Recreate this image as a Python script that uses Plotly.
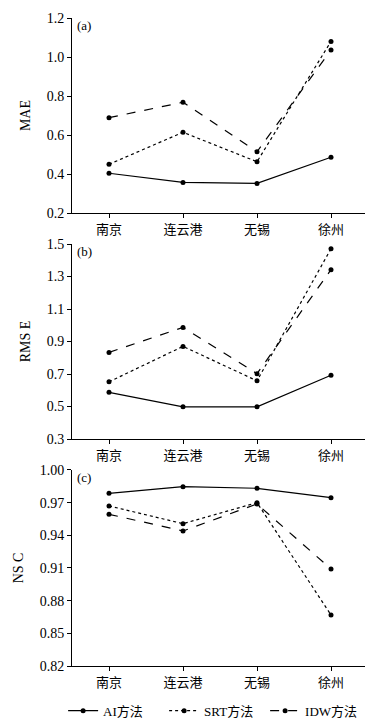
import plotly.graph_objects as go

cities = ["南京", "连云港", "无锡", "徐州"]
methods = ["AI方法", "SRT方法", "IDW方法"]

mae_ai = [0.404, 0.357, 0.352, 0.486]
mae_srt = [0.450, 0.614, 0.463, 1.080]
mae_idw = [0.689, 0.768, 0.514, 1.036]

rmse_ai = [0.587, 0.498, 0.498, 0.692]
rmse_srt = [0.652, 0.870, 0.658, 1.471]
rmse_idw = [0.833, 0.987, 0.702, 1.342]

nsc_ai = [0.9786, 0.9847, 0.9832, 0.9746]
nsc_srt = [0.9670, 0.9507, 0.9700, 0.8669]
nsc_idw = [0.9593, 0.9440, 0.9688, 0.9091]

panels = [
    ("MAE", "(a)", [mae_ai, mae_srt, mae_idw], [0.2, 1.2], [0.2, 0.4, 0.6, 0.8, 1.0, 1.2], ["0.2", "0.4", "0.6", "0.8", "1.0", "1.2"]),
    ("RMS E", "(b)", [rmse_ai, rmse_srt, rmse_idw], [0.3, 1.5], [0.3, 0.5, 0.7, 0.9, 1.1, 1.3, 1.5], ["0.3", "0.5", "0.7", "0.9", "1.1", "1.3", "1.5"]),
    ("NS C", "(c)", [nsc_ai, nsc_srt, nsc_idw], [0.82, 1.00], [0.82, 0.85, 0.88, 0.91, 0.94, 0.97, 1.00], ["0.82", "0.85", "0.88", "0.91", "0.94", "0.97", "1.00"]),
]

dashes = ["solid", "dot", "dash"]
domains = [[0.699, 1.0], [0.3503, 0.6512], [0.0, 0.3025]]

SERIF = "Liberation Serif"
CJK = "Noto Sans CJK SC"

fig = go.Figure()
layout = {}
for i, (ytitle, label, series, yr, tv, tt) in enumerate(panels):
    n = "" if i == 0 else str(i + 1)
    for j, vals in enumerate(series):
        fig.add_trace(go.Scatter(
            x=[0, 1, 2, 3], y=vals, mode="lines+markers",
            line=dict(color="black", width=1.2, dash=dashes[j]),
            marker=dict(color="black", size=5),
            name=methods[j], showlegend=(i == 2),
            xaxis="x" + n, yaxis="y" + n,
        ))
    layout["xaxis" + n] = dict(
        domain=[0, 1], anchor="y" + n, range=[-0.5, 3.5],
        tickvals=[0, 1, 2, 3], ticktext=cities,
        showline=True, linecolor="black", linewidth=1,
        ticks="outside", ticklen=4, tickcolor="black",
        showgrid=False, zeroline=False,
        tickfont=dict(family=CJK, size=13, color="black"),
    )
    layout["yaxis" + n] = dict(
        domain=domains[i], anchor="x" + n, range=yr,
        tickvals=tv, ticktext=tt,
        showline=True, linecolor="black", linewidth=1,
        ticks="outside", ticklen=4, tickcolor="black",
        showgrid=False, zeroline=False,
        tickfont=dict(family=SERIF, size=14, color="black"),
        title=dict(text=ytitle, font=dict(family=SERIF, size=14, color="black"), standoff=12),
    )
    fig.add_annotation(
        xref="x" + n + " domain", yref="y" + n + " domain",
        x=0.01, y=1.01, xanchor="left", yanchor="top",
        text=label, showarrow=False,
        font=dict(family=SERIF, size=13, color="black"),
    )

fig.update_layout(
    **layout,
    width=373, height=719,
    margin=dict(l=64, r=13, t=10, b=61, autoexpand=False),
    paper_bgcolor="white", plot_bgcolor="white",
    showlegend=True,
    legend=dict(
        orientation="h", x=-0.03, y=-0.069, xanchor="left", yanchor="middle",
        font=dict(family=SERIF + ", " + CJK, size=13, color="black"),
        entrywidth=56, entrywidthmode="pixels",
        itemwidth=30, bgcolor="rgba(0,0,0,0)",
    ),
)

fig.write_html("out.html")
